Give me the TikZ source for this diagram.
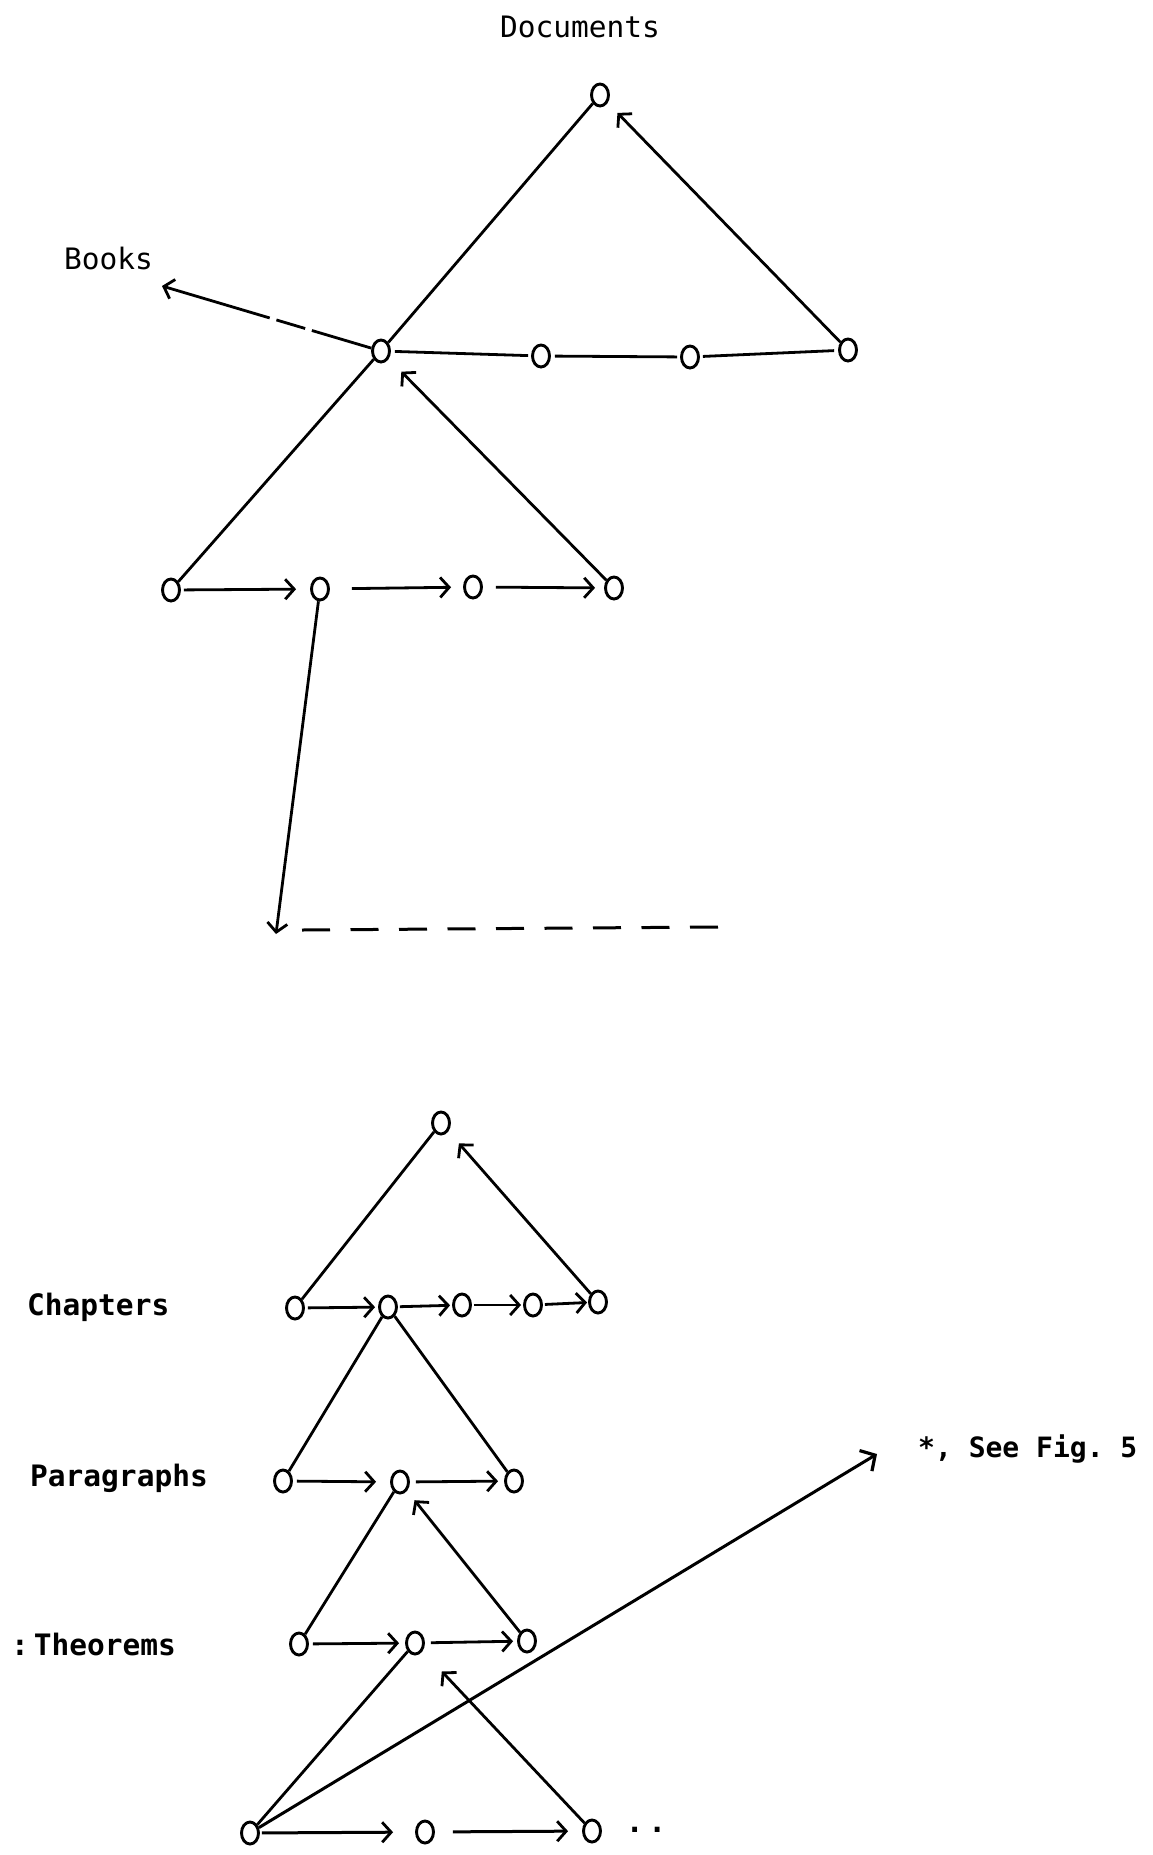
\documentclass[tikz,border=0pt]{standalone}
\usepackage{fontspec}
\setmonofont{DejaVu Sans Mono}
\usetikzlibrary{arrows.meta,shapes.geometric}
\begin{document}
\begin{tikzpicture}[x=1pt,y=-1pt,
  nd/.style={ellipse,draw,line width=2.9pt,minimum width=17pt,minimum height=22pt,inner sep=0pt},
  ln/.style={line width=2.8pt},
  ar/.style={line width=2.8pt,-{Straight Barb[length=9pt,width=20pt,line width=2.8pt]}},
  lbl/.style={font=\fontsize{29.5}{32}\selectfont\ttfamily, inner sep=0pt},
  blbl/.style={font=\fontsize{29.5}{32}\selectfont\ttfamily\bfseries, inner sep=0pt}
]
\path[use as bounding box, fill=white] (0,0) rectangle (1153,1855);

% ---------- upper tree ----------
\node[lbl] (tdoc) at (580,27) {Documents};
\node[lbl,anchor=west] (tbooks) at (64,258) {Books};

\node[nd] (D) at (600,95) {};
\node[nd] (B) at (381,351) {};
\node[nd] (r2) at (541,356) {};
\node[nd] (r3) at (690,357) {};
\node[nd] (r4) at (848,350) {};

\node[nd] (c1) at (171,590) {};
\node[nd] (c2) at (320,589) {};
\node[nd] (c3) at (473,587) {};
\node[nd] (c4) at (614,588) {};

\coordinate (booktip) at (162,286);
\coordinate (longtip) at (276,934);
\coordinate (dashA) at (302,930);
\coordinate (dashB) at (718,927);

\draw[ln] (D) -- (B);
\draw[ln] (B) -- (c1);
\draw[ar,shorten >=14pt] (r4) -- (D);
\draw[ar,shorten >=18pt] (c4) -- (B);
\draw[ln,shorten <=4pt,shorten >=3pt] (B) -- (r2);
\draw[ln,shorten <=4pt,shorten >=3pt] (r2) -- (r3);
\draw[ln,shorten <=3pt,shorten >=4pt] (r3) -- (r4);
\draw[ar,dash pattern={on 62pt off 7pt on 30pt off 7pt on 300pt off 0pt}] (B) -- (booktip);

\draw[ar,shorten <=3pt,shorten >=14pt] (c1) -- (c2);
\draw[ar,shorten <=22pt,shorten >=12pt] (c2) -- (c3);
\draw[ar,shorten <=13pt,shorten >=9pt] (c3) -- (c4);
\draw[ar] (c2) -- (longtip);
\draw[line width=3pt,dash pattern=on 28pt off 20.5pt] (dashA) -- (dashB);

% ---------- lower tree ----------
\node[blbl,anchor=west] (tch) at (27,1307) {Chapters};
\node[blbl,anchor=west] (tpar) at (30,1478) {Paragraphs};
\node[blbl,anchor=west] (tthm) at (11,1644) {:\,Theorems};
\node[blbl,anchor=west,font=\fontsize{28}{30}\selectfont\ttfamily\bfseries] (tsee) at (918,1449) {*, See Fig. 5};

\node[nd] (E) at (441,1123) {};
\node[nd] (h1) at (295,1308) {};
\node[nd] (h2) at (388,1307) {};
\node[nd] (h3) at (462,1305) {};
\node[nd] (h4) at (533,1305) {};
\node[nd] (h5) at (598,1302) {};

\node[nd] (p1) at (283,1481) {};
\node[nd] (p2) at (400,1482) {};
\node[nd] (p3) at (514,1481) {};

\node[nd] (t1) at (299,1644) {};
\node[nd] (t2) at (415,1643) {};
\node[nd] (t3) at (527,1641) {};

\node[nd] (b1) at (250,1833) {};
\node[nd] (b2) at (425,1832) {};
\node[nd] (b3) at (592,1831) {};
\node[font=\fontsize{29.5}{32}\selectfont\ttfamily\bfseries,inner sep=0pt] (bdots) at (646,1830) {.\,.};

\coordinate (seetip) at (877,1454);

\draw[ln] (E) -- (h1);
\draw[ar,shorten >=16pt] (h5) -- (E);
\draw[ar,shorten <=3pt,shorten >=3pt] (h1) -- (h2);
\draw[ar,shorten <=2pt,shorten >=2pt] (h2) -- (h3);
\draw[ar,shorten <=2pt,shorten >=2pt] (h3) -- (h4);
\draw[ar,shorten <=2pt,shorten >=1pt] (h4) -- (h5);

\draw[ln] (h2) -- (p1);
\draw[ln] (h2) -- (p3);
\draw[ar,shorten <=4pt,shorten >=14pt] (p1) -- (p2);
\draw[ar,shorten <=6pt,shorten >=6pt] (p2) -- (p3);

\draw[ln] (p2) -- (t1);
\draw[ar,shorten >=12pt] (t3) -- (p2);
\draw[ar,shorten <=4pt,shorten >=6pt] (t1) -- (t2);
\draw[ar,shorten <=6pt,shorten >=4pt] (t2) -- (t3);

\draw[ln] (t2) -- (b1);
\draw[ar,shorten >=28pt] (b3) -- (t2);
\draw[line width=3pt,-{Straight Barb[length=11pt,width=24pt,line width=3.2pt]}] (b1) -- (seetip);
\draw[ar,line width=3pt,shorten <=2pt,shorten >=22pt] (b1) -- (b2);
\draw[ar,line width=3pt,shorten <=18pt,shorten >=14pt] (b2) -- (b3);
\end{tikzpicture}
\end{document}
